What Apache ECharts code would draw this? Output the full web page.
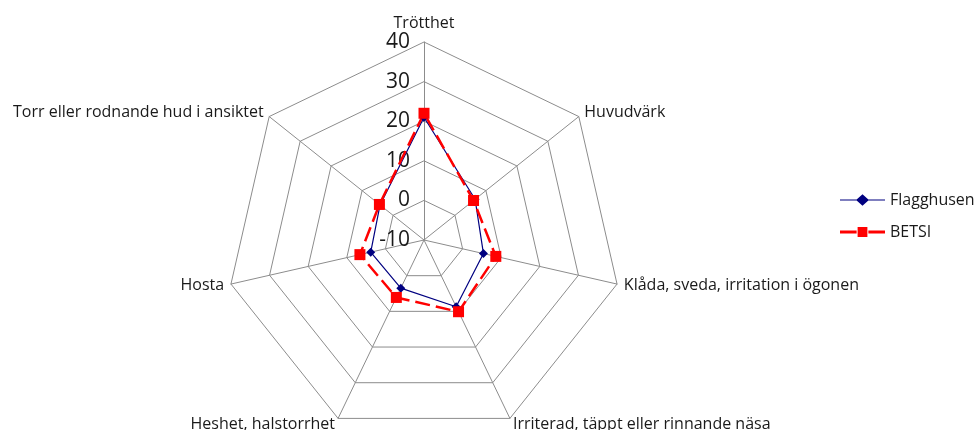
<!DOCTYPE html>
<html>
<head>
<meta charset="utf-8">
<script src="https://cdn.jsdelivr.net/npm/echarts@6/dist/echarts.min.js"></script>
<style>
  html, body { margin: 0; padding: 0; background: #fff; }
  #chart { width: 979px; height: 430px; }
</style>
</head>
<body>
<div id="chart"></div>
<script>
const categories = [
  'Trötthet',
  'Huvudvärk',
  'Klåda, sveda, irritation i ögonen',
  'Irriterad, täppt eller rinnande näsa',
  'Heshet, halstorrhet',
  'Hosta',
  'Torr eller rodnande hud i ansiktet'
]
const flagghusen = [21, 6.5, 5.4, 8.7, 3.5, 3.8, 4.2]
const betsi = [22, 6, 8.6, 10.1, 6.1, 6.6, 4.4]
const axisMin = -10
const axisMax = 40

const font = 'Open Sans, Noto Sans, sans-serif'

// radar runs counter-clockwise, so keep the first axis on top and reverse the rest
const order = [0].concat(categories.map(function (c, i) { return i }).slice(1).reverse())
function reorder (arr) {
  return order.map(function (i) { return arr[i] })
}

const indicator = order.map(function (i, k) {
  const ind = { name: categories[i], min: axisMin, max: axisMax }
  if (k === 0) {
    ind.axisLabel = {
      show: true,
      color: '#1a1a1a',
      fontSize: 21,
      fontFamily: font,
      margin: 14
    }
  }
  return ind
})

const diamondIcon = 'path://M0,5.5 L17,5.5 L23,0 L29,5.5 L46,5.5 L46,6.5 L29,6.5 L23,12 L17,6.5 L0,6.5 Z'
const squareIcon = 'path://M0,4.5 L17,4.5 L17,7.5 L0,7.5 Z M18,1 L28,1 L28,11 L18,11 Z M29,4.5 L46,4.5 L46,7.5 L29,7.5 Z M0,0 L0,0.01 Z M46,12 L46,11.99 Z'

const myChart = echarts.init(document.getElementById('chart'))
myChart.setOption({
  animation: false,
  legend: {
    orient: 'vertical',
    left: 835,
    top: 187,
    itemWidth: 45,
    itemHeight: 12,
    itemGap: 16,
    textStyle: { fontSize: 16, fontFamily: font, color: '#1a1a1a' },
    data: [
      { name: 'Flagghusen', icon: diamondIcon },
      { name: 'BETSI', icon: squareIcon }
    ]
  },
  radar: {
    center: [424, 240],
    radius: 198,
    startAngle: 90,
    splitNumber: 5,
    shape: 'polygon',
    indicator: indicator,
    axisName: { color: '#1a1a1a', fontSize: 16, fontFamily: font },
    nameGap: 7,
    axisLine: { lineStyle: { color: '#8c8c8c', width: 1 } },
    splitLine: { lineStyle: { color: '#8c8c8c', width: 1 } },
    splitArea: { show: false },
    axisTick: { show: false },
    axisLabel: { show: false }
  },
  series: [{
    type: 'radar',
    data: [
      {
        name: 'Flagghusen',
        value: reorder(flagghusen),
        symbol: 'diamond',
        symbolSize: 9,
        itemStyle: { color: '#000080' },
        lineStyle: { color: '#000080', width: 1.2 }
      },
      {
        name: 'BETSI',
        value: reorder(betsi),
        symbol: 'rect',
        symbolSize: 11,
        itemStyle: { color: '#ff0000' },
        lineStyle: { color: '#ff0000', width: 2.5, type: [15, 6] }
      }
    ]
  }]
})
</script>
</body>
</html>
